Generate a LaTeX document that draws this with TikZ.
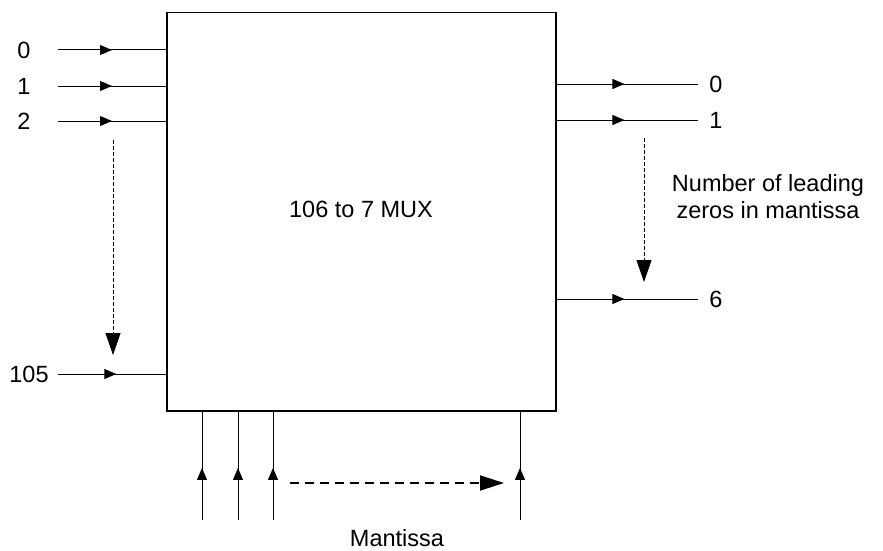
\documentclass[tikz,border=0pt]{standalone}
\usepackage{fontspec}
\setmainfont{Liberation Sans}
\usetikzlibrary{arrows.meta,decorations.markings}
\begin{document}
\begin{tikzpicture}[x=1pt,y=-1pt,
  every node/.style={font=\fontsize{23.5}{27}\selectfont, inner sep=0pt},
  sig/.style={line width=1pt, postaction={decorate}, decoration={markings,
     mark=at position #1 with {\arrow{Triangle[length=12pt,width=10pt]}}}},
  sig/.default=0.5,
  dotdash/.style={line width=0.8pt, dash pattern=on 4pt off 2pt,
     -{Triangle[length=22pt,width=15pt]}},
  bigdash/.style={line width=1.8pt, dash pattern=on 9pt off 6pt,
     -{Triangle[length=24pt,width=15pt]}}]
\useasboundingbox (0,0) rectangle (883,551);
% box
\node[draw, line width=1.5pt, minimum width=389pt, minimum height=398pt, anchor=north west] (mux) at (166,12) {};
\node (muxlabel) at (361,209) {106 to 7 MUX};
% inputs left
\node (l0) at (24,50) {0};
\node (l1) at (24,86) {1};
\node (l2) at (24,121) {2};
\node (l105) at (29,374) {105};
\coordinate (s0) at (58,50);
\coordinate (s1) at (58,86);
\coordinate (s2) at (58,121);
\coordinate (s105) at (58,374);
\draw[sig=0.5] (s0) -- (s0 -| mux.west);
\draw[sig=0.5] (s1) -- (s1 -| mux.west);
\draw[sig=0.5] (s2) -- (s2 -| mux.west);
\draw[sig=0.54] (s105) -- (s105 -| mux.west);
\coordinate (dl1) at (113,140);
\coordinate (dl2) at (113,355);
\draw[dotdash] (dl1) -- (dl2);
% outputs right
\node (r0) at (716,84) {0};
\node (r1) at (716,120) {1};
\node (r6) at (716,299) {6};
\coordinate (e0) at (698,84);
\coordinate (e1) at (698,120);
\coordinate (e6) at (698,299);
\draw[sig=0.48] (e0 -| mux.east) -- (e0);
\draw[sig=0.48] (e1 -| mux.east) -- (e1);
\draw[sig=0.48] (e6 -| mux.east) -- (e6);
\coordinate (dr1) at (644,138);
\coordinate (dr2) at (644,282);
\draw[dotdash] (dr1) -- (dr2);
\node[align=center] (zeros) at (768,197) {Number of leading\\zeros in mantissa};
% bottom inputs
\coordinate (b1) at (202,520);
\coordinate (b2) at (238,520);
\coordinate (b3) at (273,520);
\coordinate (b4) at (520,520);
\draw[sig=0.48] (b1) -- (b1 |- mux.south);
\draw[sig=0.48] (b2) -- (b2 |- mux.south);
\draw[sig=0.48] (b3) -- (b3 |- mux.south);
\draw[sig=0.48] (b4) -- (b4 |- mux.south);
\coordinate (dh1) at (290,483);
\coordinate (dh2) at (504,483);
\draw[bigdash] (dh1) -- (dh2);
\node (mant) at (397,538) {Mantissa};
\end{tikzpicture}
\end{document}
